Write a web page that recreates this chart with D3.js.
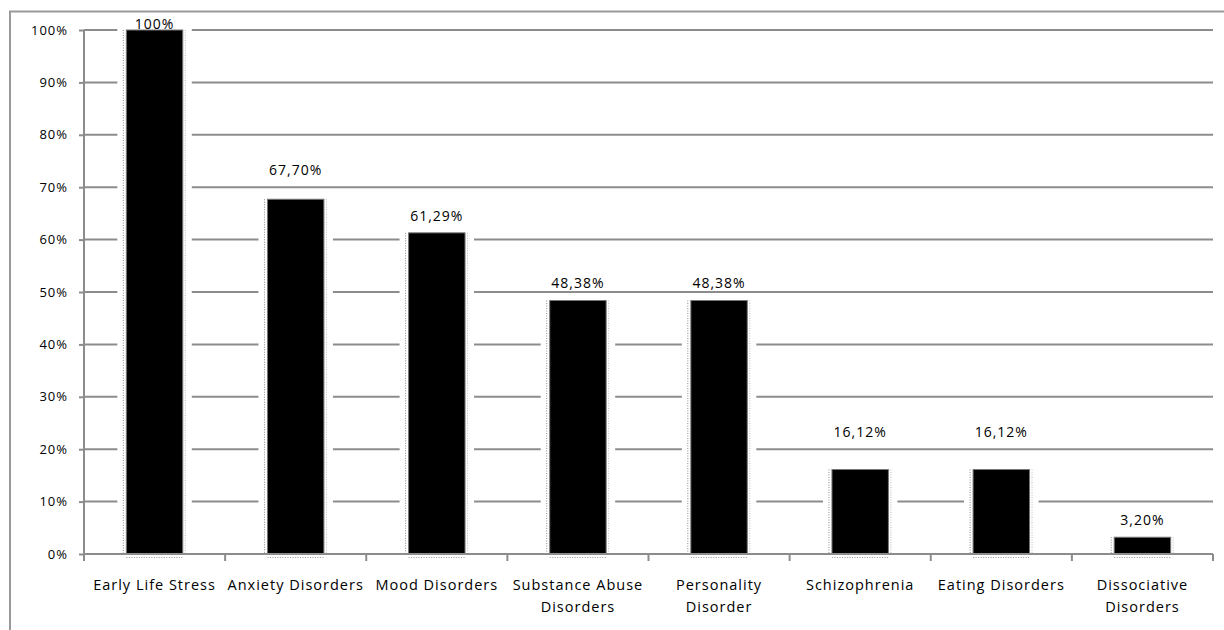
<!DOCTYPE html>
<html>
<head>
<meta charset="utf-8">
<script src="https://cdn.jsdelivr.net/npm/d3@7"></script>
<style>
  body { margin: 0; background: #fff; }
  text { font-family: "Open Sans", sans-serif; fill: #000; }
</style>
</head>
<body>
<div id="chart"></div>
<script>
// chart data
var categories = ["Early Life Stress", "Anxiety Disorders", "Mood Disorders", "Substance Abuse Disorders",
    "Personality Disorder", "Schizophrenia", "Eating Disorders", "Dissociative Disorders"];
var values = [100, 67.70, 61.29, 48.38, 48.38, 16.12, 16.12, 3.20];
var yTicks = [0, 10, 20, 30, 40, 50, 60, 70, 80, 90, 100];
// how x labels wrap onto two lines
var labelLines = [["Early Life Stress"], ["Anxiety Disorders"], ["Mood Disorders"], ["Substance Abuse", "Disorders"],
    ["Personality", "Disorder"], ["Schizophrenia"], ["Eating Disorders"], ["Dissociative", "Disorders"]];

var svgWidth = 1224;
var svgHeight = 630;

var margin = { top: 30, bottom: 76, right: 11, left: 84 };
var width = svgWidth - margin.left - margin.right;
var height = svgHeight - margin.top - margin.bottom;

var svg = d3.select("#chart")
    .append("svg")
    .attr("width", svgWidth)
    .attr("height", svgHeight);

// outer frame (clipped at top/right)
svg.append("path")
    .attr("d", "M10,630 V11.5 H1224")
    .attr("fill", "none")
    .attr("stroke", "#999")
    .attr("stroke-width", 2);

var chartGroup = svg.append("g")
    .attr("transform", `translate(${margin.left}, ${margin.top})`);

var x = d3.scaleBand()
    .domain(categories)
    .range([0, width])
    .paddingInner(0.6)
    .paddingOuter(0.3);

var y = d3.scaleLinear()
    .domain([0, 100])
    .range([height, 0]);

// gridlines
chartGroup.append("g")
    .selectAll("line")
    .data(yTicks.filter(d => d > 0))
    .enter()
    .append("line")
    .attr("x1", 0)
    .attr("x2", width)
    .attr("y1", d => y(d))
    .attr("y2", d => y(d))
    .attr("stroke", "#8c8c8c")
    .attr("stroke-width", 2);

// white boxes behind bars cut the gridlines
var gap = 9;
chartGroup.append("g")
    .selectAll("rect")
    .data(values)
    .enter()
    .append("rect")
    .attr("x", (d, i) => x(categories[i]) - gap)
    .attr("y", d => y(d) - 1)
    .attr("width", x.bandwidth() + gap * 2)
    .attr("height", d => height - y(d) + 1)
    .attr("fill", "#fff");

// dotted outlines (artifact of the original)
var dots = chartGroup.append("g")
    .attr("fill", "none")
    .attr("stroke-dasharray", "1,1.5");
values.forEach(function (v, i) {
    var bx = x(categories[i]);
    dots.append("line")
        .attr("x1", bx - 3).attr("x2", bx - 3)
        .attr("y1", y(v)).attr("y2", height)
        .attr("stroke", "#888").attr("stroke-width", 1);
    dots.append("line")
        .attr("x1", bx + x.bandwidth() + 2.5).attr("x2", bx + x.bandwidth() + 2.5)
        .attr("y1", y(v)).attr("y2", height)
        .attr("stroke", "#bbb").attr("stroke-width", 1);
    dots.append("line")
        .attr("x1", bx).attr("x2", bx + x.bandwidth())
        .attr("y1", height + 3.5).attr("y2", height + 3.5)
        .attr("stroke", "#999").attr("stroke-width", 1);
});

// bars
chartGroup.append("g")
    .selectAll("rect")
    .data(values)
    .enter()
    .append("rect")
    .attr("x", (d, i) => x(categories[i]))
    .attr("y", d => y(d))
    .attr("width", x.bandwidth())
    .attr("height", d => height - y(d))
    .attr("fill", "#000")
    .attr("stroke", "#777")
    .attr("stroke-width", 1);

// y axis
var yAxis = d3.axisLeft(y)
    .tickValues(yTicks)
    .tickSize(5)
    .tickPadding(11)
    .tickFormat(d => d + "%");
var yAxisG = chartGroup.append("g").call(yAxis);
yAxisG.select(".domain").attr("stroke", "#8c8c8c").attr("stroke-width", 2).attr("d", `M0,0V${height}`);
yAxisG.selectAll(".tick line").attr("stroke", "#8c8c8c").attr("stroke-width", 2);
yAxisG.selectAll(".tick text")
    .style("font-size", "13px")
    .style("font-family", "'Open Sans', sans-serif")
    .style("letter-spacing", "1px");

// x axis line and boundary ticks
chartGroup.append("line")
    .attr("x1", 0).attr("x2", width)
    .attr("y1", height).attr("y2", height)
    .attr("stroke", "#8c8c8c").attr("stroke-width", 2);
var step = x.step();
var bounds = d3.range(categories.length + 1);
chartGroup.append("g")
    .selectAll("line")
    .data(bounds)
    .enter()
    .append("line")
    .attr("x1", d => x(categories[0]) - step * x.paddingOuter() + d * step)
    .attr("x2", d => x(categories[0]) - step * x.paddingOuter() + d * step)
    .attr("y1", height)
    .attr("y2", height + 7)
    .attr("stroke", "#8c8c8c")
    .attr("stroke-width", 2);

// x labels
var xLabels = chartGroup.append("g");
labelLines.forEach(function (lines, i) {
    var t = xLabels.append("text")
        .attr("x", x(categories[i]) + x.bandwidth() / 2)
        .attr("y", height + 36)
        .attr("text-anchor", "middle")
        .style("font-size", "14.5px")
        .style("letter-spacing", "1px");
    lines.forEach(function (ln, j) {
        t.append("tspan")
            .attr("x", x(categories[i]) + x.bandwidth() / 2)
            .attr("dy", j === 0 ? 0 : 22)
            .text(ln);
    });
});

// value labels, nudged away from gridlines like the original
function fmt(v) {
    return v === 100 ? "100%" : v.toFixed(2).replace(".", ",") + "%";
}
function labelCenter(v) {
    var c = y(v) - 17;
    yTicks.forEach(function (t) {
        if (Math.abs(y(t) - c) < 8) c = y(t) - 17;
    });
    return Math.max(c, -6);
}
chartGroup.append("g")
    .selectAll("text")
    .data(values)
    .enter()
    .append("text")
    .attr("x", (d, i) => x(categories[i]) + x.bandwidth() / 2)
    .attr("y", d => labelCenter(d))
    .attr("dy", "0.35em")
    .attr("text-anchor", "middle")
    .style("font-size", "14px")
    .style("letter-spacing", "1px")
    .text(d => fmt(d));
</script>
</body>
</html>
